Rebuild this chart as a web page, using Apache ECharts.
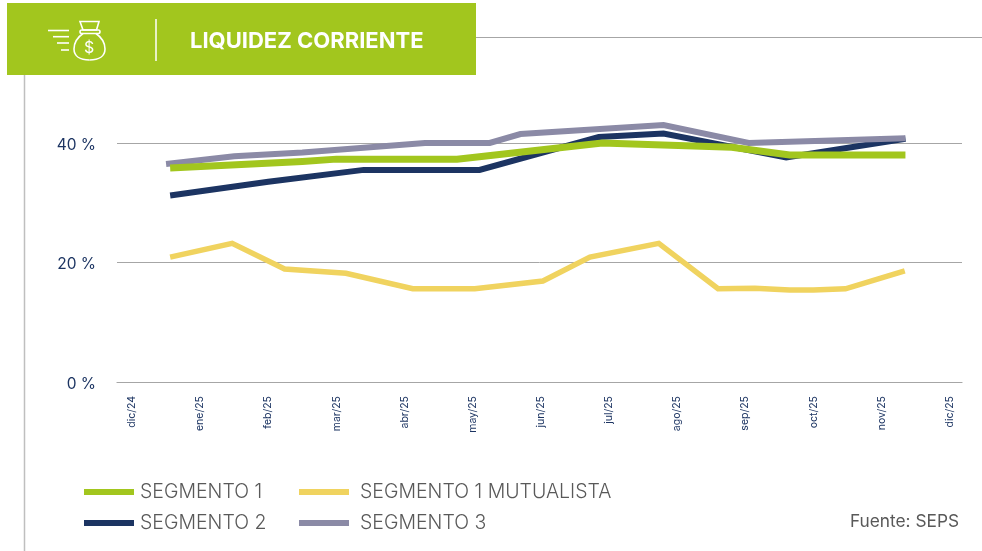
<!DOCTYPE html>
<html><head><meta charset="utf-8">
<style>html,body{margin:0;padding:0;background:#fff}#c{width:982px;height:551px}</style>
<script src="https://cdn.jsdelivr.net/npm/echarts@6/dist/echarts.min.js"></script>
</head><body><div id="c"></div>
<script>
const monthLabels = ['dic/24','ene/25','feb/25','mar/25','abr/25','may/25','jun/25','jul/25','ago/25','sep/25','oct/25','nov/25','dic/25'];
const seg1X = [0.56,2.5,3.0,4.77,6.9,8.8,9.65,10.9,11.35];
const seg1Y = [35.8,36.9,37.3,37.3,40.0,39.3,38.0,38.0,38.0];
const seg2X = [0.56,2.0,3.4,5.1,6.85,7.8,9.6,11.35];
const seg2Y = [31.2,33.5,35.5,35.5,41.0,41.6,37.6,40.7];
const seg3X = [0.5,1.5,2.5,4.3,5.25,5.7,7.8,9.05,11.35];
const seg3Y = [36.5,37.8,38.4,40.0,40.0,41.5,43.0,40.0,40.8];
const mutX = [0.56,1.47,2.24,3.14,4.12,5.03,6.03,6.72,7.73,8.6,9.14,9.65,10.0,10.47,11.34];
const mutY = [20.9,23.2,18.9,18.2,15.6,15.6,16.9,20.9,23.2,15.6,15.7,15.4,15.4,15.6,18.6];
const pairs = (xs, ys) => xs.map((x, i) => [x, ys[i]]);
const FONT = 'Inter';
const chart = echarts.init(document.getElementById('c'), null, {renderer:'canvas'});
const line = (name, xs, ys, color, w) => ({name, type:'line', data:pairs(xs,ys), symbol:'none', lineStyle:{color, width:w, cap:'butt', join:'miter'}, itemStyle:{color}});
const icon = {stroke:'#fff', lineWidth:1.6, fill:null};
const legendText = pad => ({color:'#595959', fontFamily:FONT, fontSize:19.5, fontWeight:300, padding:[0,0,0,pad], lineHeight:19});
const dash = (x1,y,x2) => ({type:'line', silent:true, shape:{x1,y1:y,x2,y2:y}, style:{stroke:'#fff',lineWidth:1.6}});
const curve = (x1,y1,cpx1,cpy1,cpx2,cpy2,x2,y2) => ({type:'bezierCurve', silent:true, shape:{x1,y1,cpx1,cpy1,cpx2,cpy2,x2,y2}, style:icon});
chart.setOption({
  animation:false, backgroundColor:'#fff',
  grid:{left:117, right:20, top:83.25, bottom:169},
  xAxis:{type:'value', min:-0.22, max:12.18, splitLine:{show:false},
    axisLine:{show:true, onZero:false, lineStyle:{color:'#a6a6a6', width:1.2}}, axisTick:{show:false},
    axisLabel:{customValues:monthLabels.map((_,i)=>i), formatter:v=>monthLabels[Math.round(v)], rotate:90, color:'#1c3462', fontFamily:FONT, fontSize:10.5, margin:14}},
  yAxis:{type:'value', min:0, max:50, interval:20, axisLine:{show:false}, axisTick:{show:false},
    splitLine:{showMinLine:false, showMaxLine:false, lineStyle:{color:'#a6a6a6', width:1}},
    axisLabel:{showMaxLabel:false, formatter:'{value} %', color:'#1c3462', fontFamily:FONT, fontSize:15.5, margin:21, verticalAlign:'top', lineHeight:4}},
  legend:[
    {left:79, top:477, orient:'vertical', itemWidth:50, itemHeight:6, itemGap:11, icon:'rect', data:['SEGMENTO 1','SEGMENTO 2'], textStyle:legendText(1)},
    {left:294, top:477, orient:'vertical', itemWidth:50, itemHeight:6, itemGap:11, icon:'rect', data:['SEGMENTO 1 MUTUALISTA','SEGMENTO 3'], textStyle:legendText(6)}
  ],
  series:[
    line('SEGMENTO 2', seg2X, seg2Y, '#1c3462', 6),
    line('SEGMENTO 3', seg3X, seg3Y, '#8b8aa6', 6),
    line('SEGMENTO 1', seg1X, seg1Y, '#a2c61e', 7),
    line('SEGMENTO 1 MUTUALISTA', mutX, mutY, '#f0d35f', 5.5)
  ],
  graphic:[
    {type:'line', silent:true, shape:{x1:476,y1:37.5,x2:982,y2:37.5}, style:{stroke:'#a6a6a6',lineWidth:1}},
    {type:'line', silent:true, shape:{x1:24.5,y1:75,x2:24.5,y2:551}, style:{stroke:'#bfbfbf',lineWidth:1.5}},
    {type:'rect', silent:true, shape:{x:7,y:3,width:469,height:72}, style:{fill:'#a2c61e'}},
    {type:'line', silent:true, shape:{x1:156,y1:19,x2:156,y2:61}, style:{stroke:'#fff',lineWidth:1.5}},
    dash(48,30.5,69), dash(53,36.7,69), dash(57,43,69), dash(61,50,69),
    {type:'polygon', silent:true, shape:{points:[[80,21.5],[99,21.5],[96.5,30],[83,30]]}, style:icon},
    {type:'rect', silent:true, shape:{x:80,y:30,width:20,height:3.5,r:1.7}, style:icon},
    curve(83,33.5,78,37,74,43,74,49),
    curve(74,49,74,56,80,60,89.5,60),
    curve(89.5,60,99,60,105,56,105,49),
    curve(105,49,105,43,101,37,96,33.5),
    {type:'text', silent:true, left:84, top:40, style:{text:'$', fill:'#fff', font:'400 16px '+FONT}},
    {type:'text', silent:true, left:190, top:30, style:{text:'LIQUIDEZ CORRIENTE', fill:'#fff', font:'700 22px '+FONT}},
    {type:'text', silent:true, right:23, top:513, style:{text:'Fuente: SEPS', fill:'#595959', font:'400 17.3px '+FONT}}
  ]
});
</script></body></html>
